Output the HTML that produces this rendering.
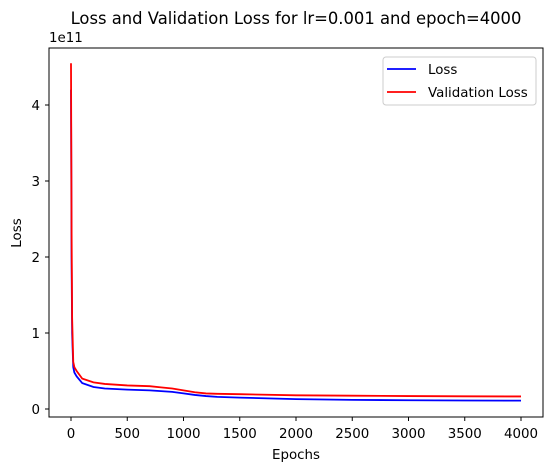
<!DOCTYPE html>
<html><head><meta charset="utf-8"><style>
body{margin:0;background:#fff;}
svg{font-family:"DejaVu Sans","Liberation Sans",sans-serif;}
</style></head><body>
<svg id="chart" width="554" height="470" xmlns="http://www.w3.org/2000/svg">
<rect width="554" height="470" fill="#fff"/>
<text x="296" y="24" font-size="16.4" text-anchor="middle">Loss and Validation Loss for lr=0.001 and epoch=4000</text>
<text x="49" y="42" font-size="13.4">1e11</text>
<text x="296" y="459" font-size="13.4" text-anchor="middle">Epochs</text>
<text transform="translate(21,233) rotate(-90)" font-size="13.4" text-anchor="middle">Loss</text>
<g id="ticks"></g>
<g id="lines"></g>
<rect x="49" y="48" width="494" height="369" fill="none" stroke="#000" stroke-width="1"/>
<g>
<rect x="383" y="57" width="153" height="48" rx="3" fill="#fff" stroke="#ccc"/>
<line x1="387" y1="69" x2="416" y2="69" stroke="blue" stroke-width="1.8"/>
<text x="428" y="74" font-size="13.4">Loss</text>
<line x1="387" y1="92" x2="416" y2="92" stroke="red" stroke-width="1.8"/>
<text x="428" y="97" font-size="13.4">Validation Loss</text>
</g>
</svg>
<script>
const epochs = [0,5,10,20,30,50,100,200,300,500,700,800,900,1000,1100,1200,1300,1500,2000,2500,3000,3500,4000];
const lossVals = [4.2,2.0,1.0,0.55,0.48,0.43,0.34,0.29,0.27,0.255,0.245,0.235,0.225,0.205,0.185,0.17,0.16,0.15,0.13,0.12,0.115,0.112,0.11];
const valVals  = [4.55,2.4,1.2,0.62,0.55,0.5,0.40,0.35,0.33,0.31,0.30,0.285,0.27,0.245,0.22,0.205,0.2,0.195,0.18,0.175,0.17,0.167,0.165];
const xTicks = [0,500,1000,1500,2000,2500,3000,3500,4000];
const yTicks = [0,1,2,3,4];
const X = v => 71 + v * 0.1125;
const Y = v => 409 - v * 76;
const ns = "http://www.w3.org/2000/svg";
const tg = document.getElementById('ticks');
xTicks.forEach(t => {
  const l = document.createElementNS(ns,'line');
  l.setAttribute('x1',X(t)); l.setAttribute('x2',X(t)); l.setAttribute('y1',417); l.setAttribute('y2',421); l.setAttribute('stroke','#000');
  
  
  tg.appendChild(l);
  const tx = document.createElementNS(ns,'text');
  tx.setAttribute('x',X(t)); tx.setAttribute('y',438); tx.setAttribute('font-size','13.4'); tx.setAttribute('text-anchor','middle');
  tx.textContent = t;
  
  
  tg.appendChild(tx);
});
yTicks.forEach(t => {
  const l = document.createElementNS(ns,'line');
  l.setAttribute('x1',45); l.setAttribute('x2',49); l.setAttribute('y1',Y(t)); l.setAttribute('y2',Y(t)); l.setAttribute('stroke','#000');
  
  
  tg.appendChild(l);
  const tx = document.createElementNS(ns,'text');
  tx.setAttribute('x',40); tx.setAttribute('y',Y(t)+5); tx.setAttribute('font-size','13.4'); tx.setAttribute('text-anchor','end');
  tx.textContent = t;
  
  
  tg.appendChild(tx);
});
const lg = document.getElementById('lines');
function drawLine(vals, color, name){
  const p = document.createElementNS(ns,'polyline');
  p.setAttribute('points', epochs.map((e,i)=>X(e)+','+Y(vals[i])).join(' '));
  p.setAttribute('fill','none'); p.setAttribute('stroke',color); p.setAttribute('stroke-width','1.8');
  
  
  lg.appendChild(p);
}
drawLine(lossVals,'blue','loss-line');
drawLine(valVals,'red','validation-loss-line');
</script>
</body></html>
